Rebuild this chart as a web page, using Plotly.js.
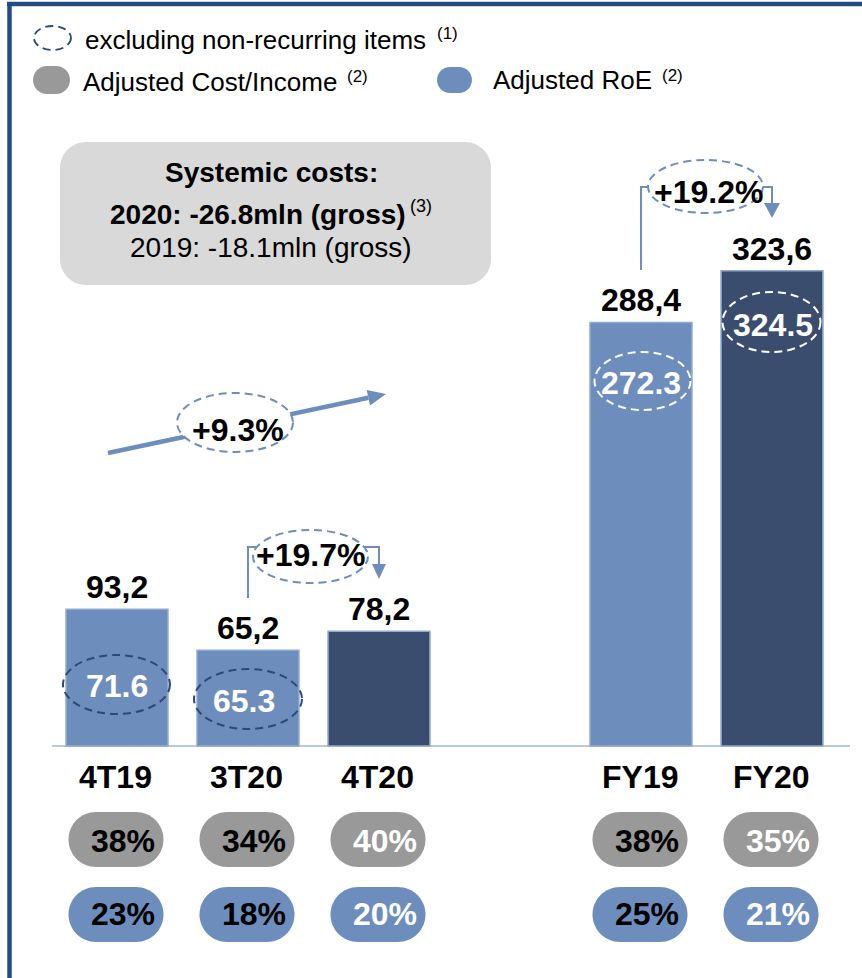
<!DOCTYPE html>
<html><head><meta charset="utf-8">
<script src="https://cdn.plot.ly/plotly-3.0.1.min.js"></script>
<style>html,body{margin:0;padding:0;background:#fff}#chart{width:862px;height:978px}</style>
</head><body><div id="chart"></div>
<script>
// ---------------- data ----------------
const categories = ['4T19', '3T20', '4T20', 'FY19', 'FY20'];
const positions = [0, 1, 2, 4, 5];
const reportedValues = [93.2, 65.2, 78.2, 288.4, 323.6];
const adjustedValues = [71.6, 65.3, null, 272.3, 324.5];   // excluding non-recurring items
const costIncome = ['38%', '34%', '40%', '38%', '35%'];
const roe = ['23%', '18%', '20%', '25%', '21%'];
const growthQuarter = '+19.7%';
const growthYear = '+19.2%';
const growthYoY = '+9.3%';
const legendLabels = ['excluding non-recurring items', 'Adjusted Cost/Income', 'Adjusted RoE'];
const boxLines = ['Systemic costs:', '2020: -26.8mln (gross)', '2019: -18.1mln (gross)'];

// ---------------- style ----------------
const W = 862, H = 978;
const LIGHT = '#6d8ebc', DARK = '#3a4d6e', GREY = '#999999', FRAME = '#234c84', DASHDARK = '#2b4a7a';
const barColors = [LIGHT, LIGHT, DARK, LIGHT, DARK];
const pillTextColors = ['#000', '#000', '#fff', '#000', '#fff'];
const FONT = 'Liberation Sans, Arial, sans-serif';
const BIG = 32;
const X_RANGE = [-0.893, 5.687];
const Y_RANGE = [-157.9, 507.9];

const px = x => x / W;
const py = y => 1 - y / H;
const xPix = pos => (pos - X_RANGE[0]) / (X_RANGE[1] - X_RANGE[0]) * W;
const P = (x, y) => px(x).toFixed(5) + ',' + py(y).toFixed(5);

function rrect(x0, y0, x1, y1, r) {
  const k = 0.5523 * r;
  return 'M' + P(x0 + r, y0) + ' L' + P(x1 - r, y0) +
    ' C' + P(x1 - r + k, y0) + ' ' + P(x1, y0 + r - k) + ' ' + P(x1, y0 + r) +
    ' L' + P(x1, y1 - r) +
    ' C' + P(x1, y1 - r + k) + ' ' + P(x1 - r + k, y1) + ' ' + P(x1 - r, y1) +
    ' L' + P(x0 + r, y1) +
    ' C' + P(x0 + r - k, y1) + ' ' + P(x0, y1 - r + k) + ' ' + P(x0, y1 - r) +
    ' L' + P(x0, y0 + r) +
    ' C' + P(x0, y0 + r - k) + ' ' + P(x0 + r - k, y0) + ' ' + P(x0 + r, y0) + ' Z';
}
function tri(tx, ty, ux, uy, len, half) {
  const bx = tx - ux * len, by = ty - uy * len;
  const nx = -uy, ny = ux;
  return 'M' + P(tx, ty) + ' L' + P(bx + nx * half, by + ny * half) + ' L' + P(bx - nx * half, by - ny * half) + ' Z';
}
function ellipse(cx, cy, rx, ry, color, fill, width) {
  return {type: 'circle', xref: 'paper', yref: 'paper',
    x0: px(cx - rx), x1: px(cx + rx), y0: py(cy + ry), y1: py(cy - ry),
    line: {color: color, width: width || 2, dash: '8px,5px'}, fillcolor: fill || 'rgba(0,0,0,0)'};
}
function lineShape(x0, y0, x1, y1, color, width) {
  return {type: 'line', xref: 'paper', yref: 'paper', x0: px(x0), y0: py(y0), x1: px(x1), y1: py(y1),
    line: {color: color, width: width}};
}
function pathShape(d, color, width, fill) {
  return {type: 'path', xref: 'paper', yref: 'paper', path: d,
    line: {color: color, width: width}, fillcolor: fill || 'rgba(0,0,0,0)'};
}
function txt(text, x, y, size, opts) {
  opts = opts || {};
  return Object.assign({xref: 'paper', yref: 'paper', x: px(x), y: py(y), text: text, showarrow: false,
    xanchor: 'center', yanchor: 'middle',
    font: {family: FONT, size: size, color: opts.color || '#000'}}, opts.extra || {});
}
const B = s => '<b>' + s + '</b>';

const shapes = [];
const annotations = [];

// frame
shapes.push(lineShape(7, 4, W, 4, FRAME, 4.5));
shapes.push(lineShape(9.5, 2, 9.5, H, FRAME, 4.5));
// baseline
shapes.push({type: 'line', xref: 'paper', yref: 'y', x0: px(52), x1: px(850), y0: 0, y1: 0,
  line: {color: '#b9c9e1', width: 2}, layer: 'below'});

// legend
shapes.push(ellipse(52.5, 38, 18.5, 12, DASHDARK, null, 1.8));
shapes.push(pathShape(rrect(33, 66, 70, 94, 14), GREY, 0, GREY));
shapes.push(pathShape(rrect(437, 67, 472, 93, 13), LIGHT, 0, LIGHT));
annotations.push(txt(legendLabels[0], 83, 40, 26, {extra: {xanchor: 'left'}}));
annotations.push(txt('(1)', 435, 34, 17, {extra: {xanchor: 'left'}}));
annotations.push(txt(legendLabels[1], 81, 82, 26, {extra: {xanchor: 'left'}}));
annotations.push(txt('(2)', 345, 77, 17, {extra: {xanchor: 'left'}}));
annotations.push(txt(legendLabels[2], 491, 80, 26, {extra: {xanchor: 'left'}}));
annotations.push(txt('(2)', 660, 75, 17, {extra: {xanchor: 'left'}}));

// systemic costs box
shapes.push(pathShape(rrect(60, 142, 491, 285, 26), '#d9d9d9', 0, '#d9d9d9'));
annotations.push(txt(B(boxLines[0]), 271, 172, 28));
annotations.push(txt(B(boxLines[1]), 258, 214, 28));
annotations.push(txt('(3)', 408, 206, 18, {extra: {xanchor: 'left'}}));
annotations.push(txt(boxLines[2], 271, 248, 28));

// growth connectors
const xq1 = xPix(positions[1]), xq2 = xPix(positions[2]);
shapes.push(pathShape('M' + P(xq1, 598) + ' L' + P(xq1, 547) + ' L' + P(xq2, 547) + ' L' + P(xq2, 565), LIGHT, 2));
shapes.push(pathShape(tri(xq2, 579, 0, 1, 15, 7), LIGHT, 0, LIGHT));
shapes.push(ellipse(310.5, 556.5, 57.5, 26.5, LIGHT, '#fff'));
annotations.push(txt(B(growthQuarter), 310, 555, BIG));

const xf1 = xPix(positions[3]), xf2 = xPix(positions[4]);
shapes.push(pathShape('M' + P(xf1, 270) + ' L' + P(xf1, 187) + ' L' + P(xf2, 187) + ' L' + P(xf2, 204), LIGHT, 2));
shapes.push(pathShape(tri(xf2, 218, 0, 1, 15, 8), LIGHT, 0, LIGHT));
shapes.push(ellipse(705.5, 186.5, 57.5, 26.5, LIGHT, '#fff'));
annotations.push(txt(B(growthYear), 708, 192, BIG));

// YoY arrow
(function () {
  const tailX = 108, tailY = 453, tipX = 386, tipY = 394;
  const dx = tipX - tailX, dy = tipY - tailY, L = Math.hypot(dx, dy);
  const ux = dx / L, uy = dy / L, hl = 18;
  shapes.push(lineShape(tailX, tailY, tipX - ux * hl, tipY - uy * hl, LIGHT, 4.5));
  shapes.push(pathShape(tri(tipX, tipY, ux, uy, hl, 8), LIGHT, 0, LIGHT));
})();
shapes.push(ellipse(235, 422.5, 58, 29.5, LIGHT, '#fff'));
annotations.push(txt(B(growthYoY), 238, 430, BIG));

// inner "excluding" ellipses + values
const innerLayout = [
  {dx: -0.5, ey: 684.5, rx: 53.5, ry: 29.5, tdx: 0, ty: 686, col: DASHDARK},
  {dx: 0, ey: 699, rx: 54, ry: 30, tdx: -4, ty: 701, col: DASHDARK},
  null,
  {dx: 1.5, ey: 381, rx: 48, ry: 29, tdx: 0.5, ty: 383, col: '#ffffff'},
  {dx: -0.5, ey: 322, rx: 49, ry: 30, tdx: 0.5, ty: 325, col: '#ffffff'}
];
adjustedValues.forEach((v, i) => {
  if (v === null) return;
  const L = innerLayout[i], cx = xPix(positions[i]);
  shapes.push(ellipse(cx + L.dx, L.ey, L.rx, L.ry, L.col, null, 2));
  annotations.push(txt(B(v.toFixed(1)), cx + L.tdx, L.ty, BIG, {color: '#fff'}));
});

// value labels above bars
reportedValues.forEach((v, i) => {
  annotations.push({xref: 'x', yref: 'y', x: positions[i], y: v, yshift: 22, showarrow: false,
    xanchor: 'center', yanchor: 'middle', text: B(v.toFixed(1).replace('.', ',')),
    font: {family: FONT, size: BIG, color: '#000'}});
});

// category labels + KPI pills
categories.forEach((c, i) => {
  const cx = xPix(positions[i]) - 1;
  annotations.push(txt(B(c), cx, 777, BIG));
  shapes.push(pathShape(rrect(cx - 47.5, 812, cx + 47.5, 867, 27.5), GREY, 0, GREY));
  shapes.push(pathShape(rrect(cx - 47.5, 887, cx + 47.5, 942, 27.5), LIGHT, 0, LIGHT));
  annotations.push(txt(B(costIncome[i]), cx + 7, 841, BIG, {color: pillTextColors[i]}));
  annotations.push(txt(B(roe[i]), cx + 7, 914, BIG, {color: pillTextColors[i]}));
});

const trace = {
  type: 'bar', x: positions, y: reportedValues, width: 0.778,
  marker: {color: barColors, line: {color: '#8fa9cf', width: 1.5}},
  hoverinfo: 'none', showlegend: false
};

const layout = {
  width: W, height: H, margin: {l: 0, r: 0, t: 0, b: 0},
  paper_bgcolor: '#fff', plot_bgcolor: '#fff', showlegend: false,
  xaxis: {range: X_RANGE, visible: false, fixedrange: true},
  yaxis: {range: Y_RANGE, visible: false, fixedrange: true},
  shapes: shapes, annotations: annotations,
  font: {family: FONT}
};
Plotly.newPlot('chart', [trace], layout, {staticPlot: true, displayModeBar: false});
</script>
</body></html>
